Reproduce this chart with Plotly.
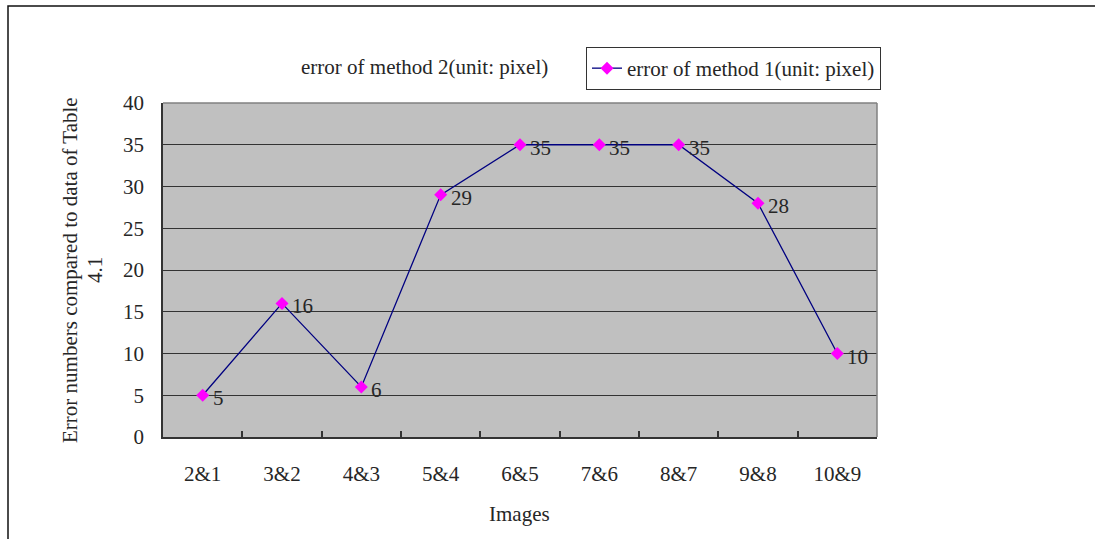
import plotly.graph_objects as go

# Image pairs and error counts for method 1
pairs = ["2&1", "3&2", "4&3", "5&4", "6&5", "7&6", "8&7", "9&8", "10&9"]
errors_method1 = [5, 16, 6, 29, 35, 35, 35, 28, 10]
y_ticks = [0, 5, 10, 15, 20, 25, 30, 35, 40]

W, H = 1095, 539
L, R, T, B = 163, 877, 103, 437  # plot area in pixels


def px(x):
    return (x - L) / (R - L)


def py(y):
    return (B - y) / (B - T)


serif = "Liberation Serif"
ink = "#262626"
fs = 21

fig = go.Figure()
fig.add_trace(go.Scatter(
    x=pairs,
    y=errors_method1,
    mode="lines+markers",
    name="error of method 1(unit: pixel)",
    line=dict(color="#000080", width=1.3),
    marker=dict(symbol="diamond", color="#FF00FF", size=10),
    cliponaxis=False,
))

# value labels to the right of each point
for cat, val in zip(pairs, errors_method1):
    fig.add_annotation(x=cat, y=val, xref="x", yref="y", text=str(val),
                       showarrow=False, xanchor="left", yanchor="middle",
                       xshift=8, yshift=-3,
                       font=dict(family=serif, size=fs, color=ink))

fig.update_layout(
    width=W, height=H,
    margin=dict(l=L, r=W - R, t=T, b=H - B),
    paper_bgcolor="white",
    plot_bgcolor="#C0C0C0",
    font=dict(family=serif, size=fs, color=ink),
    showlegend=True,
    legend=dict(
        x=px(586), y=py(47), xanchor="left", yanchor="top",
        bordercolor="#333333", borderwidth=1, bgcolor="white",
        font=dict(family=serif, size=fs, color=ink),
        tracegroupgap=0,
    ),
    xaxis=dict(
        type="category",
        range=[-0.5, len(pairs) - 0.5],
        showgrid=False,
        showline=True, linecolor="#333333", linewidth=1.5,
        ticks="inside", tickson="boundaries", ticklen=6,
        tickcolor="#333333", tickwidth=1.5,
        ticklabelstandoff=17,
        tickfont=dict(family=serif, size=fs, color=ink),
        zeroline=False,
    ),
    yaxis=dict(
        range=[0, 40],
        tickvals=y_ticks,
        ticktext=[str(v) for v in y_ticks],
        showgrid=True, gridcolor="#333333", gridwidth=1.3,
        showline=True, linecolor="#333333", linewidth=1.5,
        ticks="", ticklabelstandoff=13,
        tickfont=dict(family=serif, size=fs, color=ink),
        zeroline=False,
    ),
)

# light border on the top and right of the plot area
fig.add_shape(type="line", xref="paper", yref="paper", x0=0, x1=1, y0=1, y1=1,
              line=dict(color="#808080", width=1.5))
fig.add_shape(type="line", xref="paper", yref="paper", x0=1, x1=1, y0=0, y1=1,
              line=dict(color="#808080", width=1.5))

# outer chart frame (left and top edges)
fig.add_shape(type="path", xref="paper", yref="paper",
              path=f"M {px(8)} {py(H + 5)} L {px(8)} {py(6)} L {px(W + 5)} {py(6)}",
              line=dict(color="#111111", width=1.5))

# chart title
fig.add_annotation(x=px(424), y=py(67), xref="paper", yref="paper",
                   text="error of method 2(unit: pixel)", showarrow=False,
                   font=dict(family=serif, size=fs, color=ink),
                   xanchor="center", yanchor="middle")

# y-axis title, wrapped onto two rotated lines
for line_text, cx in [("Error numbers compared to data of Table", 70), ("4.1", 95)]:
    fig.add_annotation(x=px(cx), y=py(270), xref="paper", yref="paper",
                       text=line_text, showarrow=False, textangle=-90,
                       font=dict(family=serif, size=fs, color=ink),
                       xanchor="center", yanchor="middle")

# x-axis title
fig.add_annotation(x=px(519), y=py(514), xref="paper", yref="paper",
                   text="Images", showarrow=False,
                   font=dict(family=serif, size=fs, color=ink),
                   xanchor="center", yanchor="middle")

fig.write_html("out.html")
